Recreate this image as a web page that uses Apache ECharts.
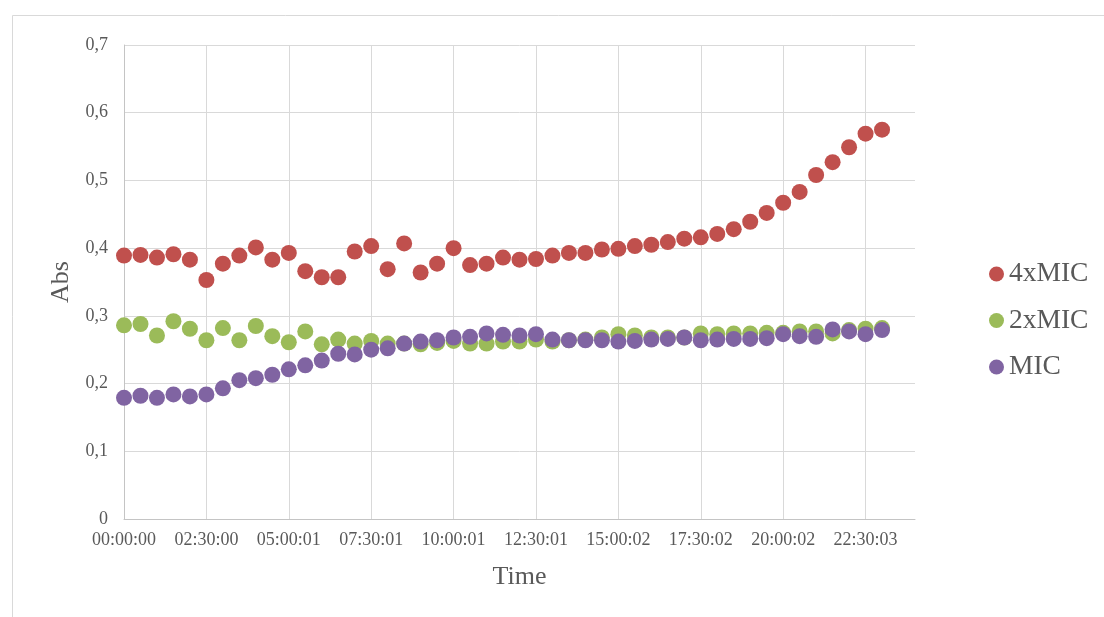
<!DOCTYPE html>
<html>
<head>
<meta charset="utf-8">
<script src="https://cdn.jsdelivr.net/npm/echarts@6/dist/echarts.min.js"></script>
<style>
  html, body { margin: 0; padding: 0; background: #ffffff; }
  #chart { width: 1104px; height: 617px; }
</style>
</head>
<body>
<div id="chart"></div>
<script>
// Sampling times, in hours since start (one reading every 30 minutes)
const hours = [
  0, 0.5, 1, 1.5, 2, 2.5, 3, 3.5, 4, 4.5,
  5, 5.5, 6, 6.5, 7, 7.5, 8, 8.5, 9, 9.5,
  10, 10.5, 11, 11.5, 12, 12.5, 13, 13.5, 14, 14.5,
  15, 15.5, 16, 16.5, 17, 17.5, 18, 18.5, 19, 19.5,
  20, 20.5, 21, 21.5, 22, 22.5, 23
];

// Absorbance readings per treatment
const abs4xMIC = [
  0.389, 0.390, 0.386, 0.391, 0.383, 0.353, 0.377, 0.389, 0.401, 0.383,
  0.393, 0.366, 0.357, 0.357, 0.395, 0.403, 0.369, 0.407, 0.364, 0.377,
  0.400, 0.375, 0.377, 0.386, 0.383, 0.384, 0.389, 0.393, 0.393, 0.398,
  0.399, 0.403, 0.405, 0.409, 0.414, 0.416, 0.421, 0.428, 0.439, 0.452,
  0.467, 0.483, 0.508, 0.527, 0.549, 0.569, 0.575
];
const abs2xMIC = [
  0.286, 0.288, 0.271, 0.292, 0.281, 0.264, 0.282, 0.264, 0.285, 0.270,
  0.261, 0.277, 0.258, 0.265, 0.259, 0.263, 0.259, 0.259, 0.258, 0.260,
  0.263, 0.259, 0.259, 0.262, 0.262, 0.265, 0.262, 0.264, 0.265, 0.268,
  0.273, 0.271, 0.268, 0.268, 0.268, 0.274, 0.273, 0.274, 0.274, 0.275,
  0.275, 0.277, 0.277, 0.274, 0.279, 0.281, 0.282
];
const absMIC = [
  0.179, 0.182, 0.179, 0.184, 0.181, 0.184, 0.193, 0.205, 0.208, 0.213,
  0.221, 0.227, 0.234, 0.244, 0.243, 0.250, 0.252, 0.259, 0.262, 0.264,
  0.268, 0.269, 0.274, 0.272, 0.271, 0.273, 0.265, 0.264, 0.264, 0.264,
  0.262, 0.263, 0.265, 0.266, 0.268, 0.264, 0.265, 0.266, 0.266, 0.267,
  0.273, 0.270, 0.269, 0.280, 0.277, 0.273, 0.279
];

// Axis tick labels
const xTickHours = [0, 2.5, 5, 7.5, 10, 12.5, 15, 17.5, 20, 22.5];
const xTickLabels = [
  '00:00:00', '02:30:00', '05:00:01', '07:30:01', '10:00:01',
  '12:30:01', '15:00:02', '17:30:02', '20:00:02', '22:30:03'
];
const yTickLabels = ['0', '0,1', '0,2', '0,3', '0,4', '0,5', '0,6', '0,7'];

const seriesNames = ['4xMIC', '2xMIC', 'MIC'];
const seriesColors = ['#C0504D', '#9BBB59', '#8064A2'];
const seriesValues = [abs4xMIC, abs2xMIC, absMIC];

const FONT = '"Liberation Serif", "Times New Roman", serif';
const TEXT_COLOR = '#595959';
const GRID_COLOR = '#d9d9d9';
const AXIS_COLOR = '#c4c4c4';

const chart = echarts.init(document.getElementById('chart'), null, { renderer: 'canvas' });

chart.setOption({
  backgroundColor: '#ffffff',
  animation: false,
  textStyle: { fontFamily: FONT },
  graphic: [{
    type: 'rect',
    shape: { x: 12.5, y: 15.5, width: 1100, height: 620 },
    style: { fill: 'none', stroke: GRID_COLOR, lineWidth: 1 },
    silent: true,
    z: -10
  }],
  grid: { left: 124, top: 45, width: 791, height: 474, containLabel: false },
  legend: {
    orient: 'vertical',
    left: 989,
    top: 260,
    padding: 0,
    itemWidth: 15,
    itemHeight: 15,
    itemGap: 18.5,
    icon: 'circle',
    data: seriesNames,
    textStyle: { fontFamily: FONT, fontSize: 27.5, lineHeight: 26, color: TEXT_COLOR }
  },
  xAxis: {
    type: 'value',
    min: 0,
    max: 24,
    interval: 2.5,
    name: 'Time',
    nameLocation: 'middle',
    nameGap: 45,
    nameTextStyle: { fontFamily: FONT, fontSize: 26, color: TEXT_COLOR },
    axisLine: { show: true, lineStyle: { color: AXIS_COLOR, width: 1 } },
    axisTick: { show: false, customValues: xTickHours },
    axisLabel: {
      customValues: xTickHours,
      margin: 12,
      fontFamily: FONT,
      fontSize: 18,
      color: TEXT_COLOR,
      formatter: function (v) {
        const i = xTickHours.indexOf(v);
        return i >= 0 ? xTickLabels[i] : '';
      }
    },
    splitLine: { show: true, lineStyle: { color: GRID_COLOR, width: 1 } }
  },
  yAxis: {
    type: 'value',
    min: 0,
    max: 0.7,
    interval: 0.1,
    name: 'Abs',
    nameLocation: 'middle',
    nameGap: 48,
    nameRotate: 90,
    nameTextStyle: { fontFamily: FONT, fontSize: 26, color: TEXT_COLOR },
    axisLine: { show: true, lineStyle: { color: AXIS_COLOR, width: 1 } },
    axisTick: { show: false },
    axisLabel: {
      margin: 16,
      fontFamily: FONT,
      fontSize: 18,
      color: TEXT_COLOR,
      formatter: function (v) { return yTickLabels[Math.round(v * 10)]; }
    },
    splitLine: { show: true, lineStyle: { color: GRID_COLOR, width: 1 } }
  },
  series: seriesNames.map(function (name, k) {
    return {
      name: name,
      type: 'scatter',
      symbol: 'circle',
      symbolSize: 16,
      itemStyle: { color: seriesColors[k], opacity: 1 },
      data: hours.map(function (h, i) { return [h, seriesValues[k][i]]; })
    };
  })
});
</script>
</body>
</html>
